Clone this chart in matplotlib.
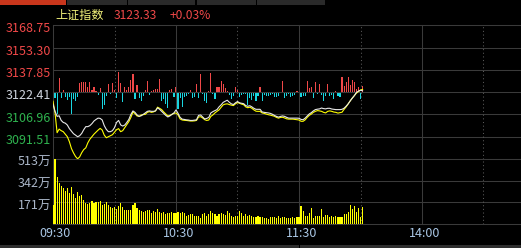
import matplotlib
matplotlib.use("Agg")
import matplotlib.pyplot as plt
from matplotlib.patches import Rectangle

plt.rcParams["font.family"] = ["Noto Sans CJK SC", "DejaVu Sans"]

# ---- 数据 ----
INDEX_NAME = "上证指数"
LAST_PRICE = "3123.33"
CHANGE_PCT = "+0.03%"
PREV_CLOSE = 3122.41

price_ticks = [3168.75, 3153.30, 3137.85, 3122.41, 3106.96, 3091.51, 3076.06]
price_labels = ["3168.75", "3153.30", "3137.85", "3122.41", "3106.96", "3091.51"]
volume_ticks = [171, 342, 513]
volume_labels = ["171万", "342万", "513万"]
time_ticks = [0, 60, 120, 180]
time_labels = ["09:30", "10:30", "11:30", "14:00"]

# 加权指数（白线），每分钟
weighted = [
    3114.0, 3109.1, 3105.6, 3106.0, 3102.8, 3101.4, 3100.9, 3099.6, 3097.1, 3095.4,
    3093.6, 3092.6, 3091.5, 3092.2, 3093.8, 3096.4, 3098.5, 3098.5, 3099.2, 3100.6,
    3102.4, 3103.5, 3104.4, 3104.2, 3103.1, 3099.2, 3096.6, 3095.0, 3095.0, 3095.7,
    3097.8, 3101.4, 3102.8, 3099.7, 3098.9, 3099.6, 3101.4, 3103.5, 3107.0, 3109.4,
    3108.4, 3106.6, 3105.6, 3106.0, 3107.0, 3108.0, 3109.1, 3109.4, 3109.1, 3109.1,
    3109.4, 3111.5, 3110.5, 3109.1, 3107.7, 3106.3, 3105.2, 3105.9, 3107.0, 3108.0,
    3110.1, 3107.7, 3104.9, 3103.7, 3103.5, 3103.2, 3103.1, 3102.8, 3102.8, 3103.0,
    3103.2, 3106.3, 3106.6, 3105.2, 3103.8, 3104.2, 3104.9, 3108.0, 3108.9, 3109.6,
    3110.3, 3112.2, 3113.6, 3115.3, 3116.1, 3116.8, 3115.4, 3114.3, 3113.8, 3115.0,
    3115.9, 3115.0, 3114.7, 3114.4, 3113.1, 3112.6, 3113.0, 3112.2, 3111.2, 3110.5,
    3110.5, 3110.5, 3108.7, 3108.4, 3108.2, 3108.0, 3107.7, 3107.1, 3106.3, 3105.6,
    3105.1, 3105.6, 3105.9, 3105.6, 3104.9, 3104.4, 3104.4, 3104.4, 3104.4, 3104.4,
    3104.3, 3103.5, 3103.3, 3104.4, 3105.9, 3107.3, 3108.2, 3109.4, 3110.3, 3110.6,
    3110.8, 3111.4, 3111.0, 3110.8, 3111.2, 3111.2, 3110.7, 3110.5, 3110.3, 3110.3,
    3110.3, 3110.5, 3111.3, 3112.7, 3114.3, 3116.4, 3118.3, 3120.0, 3122.2, 3123.1,
    3123.8, 3123.33,
]

# 不含加权（黄线）
unweighted = [
    3116.1, 3107.9, 3094.3, 3096.8, 3095.7, 3095.0, 3093.3, 3091.5, 3088.0, 3083.3,
    3080.3, 3077.8, 3076.2, 3077.5, 3080.4, 3082.6, 3083.8, 3087.3, 3089.8, 3091.5,
    3093.3, 3094.7, 3096.1, 3097.3, 3096.1, 3092.6, 3090.8, 3091.5, 3092.2, 3092.9,
    3094.7, 3096.4, 3097.1, 3095.0, 3095.7, 3097.8, 3099.9, 3102.0, 3104.9, 3108.7,
    3107.5, 3105.9, 3105.6, 3106.6, 3106.8, 3107.0, 3108.4, 3108.9, 3108.4, 3108.7,
    3109.4, 3112.0, 3111.2, 3110.3, 3108.7, 3107.3, 3105.9, 3106.3, 3107.0, 3107.7,
    3108.0, 3106.6, 3103.8, 3103.1, 3102.9, 3102.8, 3102.6, 3102.4, 3102.4, 3102.5,
    3102.8, 3105.2, 3105.4, 3104.5, 3103.3, 3102.8, 3103.1, 3105.6, 3106.6, 3108.0,
    3109.1, 3110.1, 3111.9, 3113.6, 3114.1, 3114.3, 3113.8, 3113.4, 3113.1, 3114.3,
    3115.2, 3114.7, 3114.1, 3113.7, 3112.2, 3111.6, 3112.0, 3111.2, 3110.1, 3109.2,
    3109.1, 3109.1, 3108.0, 3107.7, 3107.2, 3106.8, 3106.5, 3106.1, 3105.7, 3104.9,
    3104.4, 3104.9, 3105.0, 3104.5, 3103.9, 3103.7, 3103.7, 3103.7, 3103.5, 3103.3,
    3103.1, 3102.2, 3102.2, 3103.2, 3104.9, 3106.3, 3107.2, 3108.4, 3109.1, 3109.6,
    3109.4, 3109.1, 3108.4, 3108.0, 3109.1, 3109.4, 3109.1, 3108.6, 3108.4, 3107.9,
    3108.2, 3108.5, 3110.5, 3112.2, 3114.3, 3116.4, 3118.3, 3120.0, 3121.7, 3122.8,
    3123.8, 3124.3,
]

# 红绿柱（多空力度）
strength = [
    -8, -6, -22, 14, -6, 2, -5, -8, -5, -22,
    -7, -9, -5, 9, 10, 10, 10, 5, 10, 2,
    5, 1, -3, 4, -17, -13, -4, 8, -2, 9,
    2, -6, 20, 9, -10, 5, 2, 5, 12, 18,
    -7, 7, -6, -9, -4, 2, 11, -3, 1, 2,
    3, 3, 13, -9, -7, -12, -16, 2, 3, -5,
    5, -17, -6, -15, -5, -4, -2, 2, -6, -5,
    8, -6, 18, -2, -9, -11, 1, 19, -2, -7,
    5, 5, 11, 8, 4, 1, -3, -7, -4, 5,
    2, -5, -3, -2, -2, -13, -6, -8, -4, -9,
    -4, 5, -9, -3, -4, -4, -3, -2, -5, -5,
    -4, -1, 11, -6, -4, -2, -5, -4, -3, 1,
    -1, -5, -4, -4, 11, 4, 5, -6, 10, -2,
    8, -3, -9, -4, 8, -4, -3, -7, 1, -4,
    -5, 15, 6, 10, 15, 7, 12, 10, 3, 5,
    -7, 6,
]

# 成交量（万手）
volume = [
    150, 513, 370, 321, 300, 282, 261, 282, 242, 290,
    234, 208, 250, 221, 229, 190, 168, 158, 168, 182,
    163, 176, 176, 182, 150, 158, 171, 150, 137, 129,
    137, 118, 142, 168, 132, 111, 111, 111, 111, 150,
    163, 129, 111, 103, 97, 105, 111, 111, 89, 103,
    97, 118, 97, 89, 92, 76, 84, 84, 97, 84,
    84, 97, 84, 97, 84, 63, 71, 76, 76, 63,
    63, 63, 45, 76, 84, 63, 76, 103, 89, 76,
    63, 76, 89, 82, 71, 103, 89, 63, 58, 63,
    63, 105, 89, 63, 76, 63, 71, 63, 58, 58,
    63, 58, 58, 50, 45, 40, 53, 58, 58, 45,
    63, 45, 53, 58, 45, 45, 50, 58, 50, 55,
    55, 142, 103, 63, 63, 84, 129, 45, 63, 63,
    63, 118, 58, 71, 71, 58, 63, 58, 63, 53,
    58, 58, 79, 76, 92, 150, 116, 142, 97, 124,
    58, 132,
]

minutes = list(range(len(weighted)))

# ---- 样式 ----
BG = "#000000"
GRID = "#3a3a3a"
DOT = "#5a5a5a"
RED = "#f04848"
GREEN = "#2fb34f"
CYAN = "#19d6e0"
YELLOW = "#ffff00"
WHITE = "#e8e8e8"

W, H = 521, 248


def px_box(left, top, right, bottom):
    return [left / W, 1 - bottom / H, (right - left) / W, (bottom - top) / H]


fig = plt.figure(figsize=(W / 100, H / 100), dpi=100)
fig.patch.set_facecolor(BG)

# 红绿柱放在底层坐标轴，零点对齐昨收
ax_s = fig.add_axes(px_box(53, 25.3, 545, 159))
ax_p = fig.add_axes(px_box(53, 25.3, 545, 159), sharex=ax_s)
ax_v = fig.add_axes(px_box(53, 159, 545, 224), sharex=ax_s)

for ax in (ax_s, ax_p, ax_v):
    ax.set_facecolor(BG)
    for sp in ax.spines.values():
        sp.set_visible(False)
    ax.set_xticks([])
    ax.set_yticks([])
ax_p.patch.set_visible(False)

ax_s.set_xlim(0, 240)
ax_s.set_ylim(-66.85, 66.85)
ax_p.set_ylim(price_ticks[-1], price_ticks[0])
ax_v.set_ylim(0, volume_ticks[-1])

# 网格
for v in price_ticks:
    ax_p.axhline(v, color=GRID, lw=0.75, clip_on=False, zorder=0)
for v in [0] + volume_ticks:
    ax_v.axhline(v, color=GRID, lw=0.75, clip_on=False, zorder=0)
for ax in (ax_p, ax_v):
    for m in (0, 60, 120, 180, 240):
        ax.axvline(m, color=GRID, lw=0.75, clip_on=False, zorder=0)
    for m in (30, 90, 150, 210):
        ax.axvline(m, color=DOT, lw=0.75, ls=(0, (1, 2.5)), zorder=0)

# 红绿柱
bar_colors = [RED if s > 0 else CYAN for s in strength]
ax_s.bar(minutes, strength, width=0.55, color=bar_colors, linewidth=0)

# 分时线
ax_p.plot(minutes, unweighted, color=YELLOW, lw=0.8, zorder=3)
ax_p.plot(minutes, weighted, color=WHITE, lw=0.8, zorder=4)

# 成交量
ax_v.bar(minutes, volume, width=0.55, color=YELLOW, linewidth=0)

# 纵轴标签
label_colors = [RED, RED, RED, "#d0d6e0", GREEN, GREEN]
for v, lab, c in zip(price_ticks[:-1], price_labels, label_colors):
    ax_p.annotate(lab, xy=(0, v), xycoords=ax_p.get_yaxis_transform(),
                  xytext=(-2, -3.6), textcoords="offset pixels",
                  ha="right", va="center", fontsize=9, color=c, annotation_clip=False)
for v, lab in zip(volume_ticks, volume_labels):
    ax_v.annotate(lab, xy=(0, v), xycoords=ax_v.get_yaxis_transform(),
                  xytext=(-2, -3.6), textcoords="offset pixels",
                  ha="right", va="center", fontsize=9, color="#aab6c8", annotation_clip=False)

# 时间标签
for m, lab in zip(time_ticks, time_labels):
    ax_v.annotate(lab, xy=(m, 0), xycoords=ax_v.get_xaxis_transform(),
                  xytext=(2.5, -9.5), textcoords="offset pixels",
                  ha="center", va="center", fontsize=9, color="#a9c6e4", annotation_clip=False)

# 标题
fig.text(55 / W, 1 - 15.7 / H, INDEX_NAME, color="#f2f27a", fontsize=8.7, va="center")
fig.text(114 / W, 1 - 15.7 / H, LAST_PRICE, color=RED, fontsize=8.7, va="center")
fig.text(170 / W, 1 - 15.7 / H, CHANGE_PCT, color=RED, fontsize=8.7, va="center")

# 顶部标签页与底部状态栏
fig.add_artist(Rectangle((0, 1 - 4.5 / H), 66 / W, 4.5 / H, transform=fig.transFigure,
                         color="#c8361c", lw=0))
for x0, x1 in ((67, 127), (128, 195), (197, 256), (257, 325)):
    fig.add_artist(Rectangle((x0 / W, 1 - 5 / H), (x1 - x0) / W, 5 / H,
                             transform=fig.transFigure, color="#2a2a2a", lw=0))
fig.add_artist(Rectangle((0, 0), 1, 3 / H, transform=fig.transFigure, color="#2e2e2e", lw=0))
fig.add_artist(Rectangle((299 / W, 0), 1.2 / W, 3 / H, transform=fig.transFigure, color=BG, lw=0))

fig.savefig("out.png", dpi=100, facecolor=BG)
